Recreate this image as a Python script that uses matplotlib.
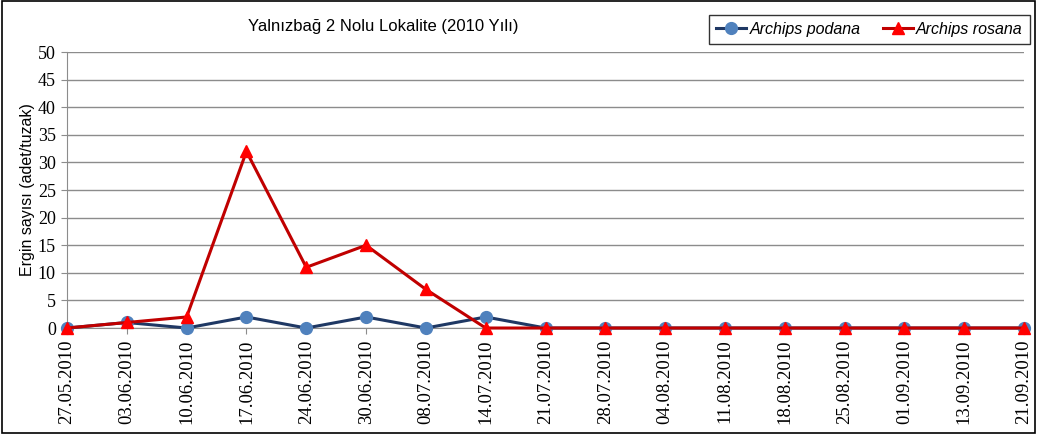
import matplotlib
matplotlib.use("Agg")
import matplotlib.pyplot as plt
from matplotlib.patches import Rectangle

# Sampling dates and trap counts
dates = ["27.05.2010", "03.06.2010", "10.06.2010", "17.06.2010", "24.06.2010",
         "30.06.2010", "08.07.2010", "14.07.2010", "21.07.2010", "28.07.2010",
         "04.08.2010", "11.08.2010", "18.08.2010", "25.08.2010", "01.09.2010",
         "13.09.2010", "21.09.2010"]
podana = [0, 1, 0, 2, 0, 2, 0, 2, 0, 0, 0, 0, 0, 0, 0, 0, 0]
rosana = [0, 1, 2, 32, 11, 15, 7, 0, 0, 0, 0, 0, 0, 0, 0, 0, 0]
yticks = list(range(0, 55, 5))

fig = plt.figure(figsize=(10.37, 4.34), dpi=100)
ax = fig.add_axes([0.0646, 0.2442, 0.9229, 0.6358])

x = list(range(len(dates)))
ax.plot(x, podana, color="#1F3864", lw=2.2, marker="o", ms=8.5,
        markerfacecolor="#4F81BD", markeredgecolor="#4F81BD",
        label="Archips podana", zorder=3, clip_on=False)
ax.plot(x, rosana, color="#C00000", lw=2.2, marker="^", ms=8.5,
        markerfacecolor="#FF0000", markeredgecolor="#FF0000",
        label="Archips rosana", zorder=4, clip_on=False)

ax.set_xlim(0, len(dates) - 1)
ax.set_ylim(0, 50)
ax.set_yticks(yticks)
ax.set_xticks(x)
ax.set_xticklabels(dates, rotation=90, family="Liberation Serif", fontsize=13.5)
for lab in ax.get_yticklabels():
    lab.set_family("Liberation Serif")
    lab.set_fontsize(13)
ax.yaxis.grid(True, color="#8c8c8c", lw=1)
ax.set_axisbelow(True)
for s in ["top", "right"]:
    ax.spines[s].set_visible(False)
ax.spines["left"].set_color("#8c8c8c")
ax.spines["bottom"].set_color("#8c8c8c")
ax.tick_params(axis="y", length=4, color="#8c8c8c", pad=4)
ax.tick_params(axis="x", length=4, color="#8c8c8c", pad=4)
ax.set_ylabel("Ergin sayısı (adet/tuzak)", family="Liberation Sans", fontsize=11.5, labelpad=2)

fig.text(0.37, 0.94, "Yalnızbağ 2 Nolu Lokalite (2010 Yılı)", ha="center", va="center",
         family="Liberation Sans", fontsize=12)

leg = fig.legend(loc="upper right", bbox_to_anchor=(0.9933, 0.966), ncol=2,
                 prop={"family": "Liberation Sans", "style": "italic", "size": 11.5},
                 frameon=True, fancybox=False, edgecolor="black",
                 handlelength=1.9, columnspacing=1.4, handletextpad=0.2,
                 borderpad=0.45, borderaxespad=0)
leg.get_frame().set_linewidth(1)

fig.patches.append(Rectangle((0.002, 0.003), 0.996, 0.994, transform=fig.transFigure,
                             fill=False, edgecolor="black", lw=1.2))

fig.savefig("out.png", dpi=100)
